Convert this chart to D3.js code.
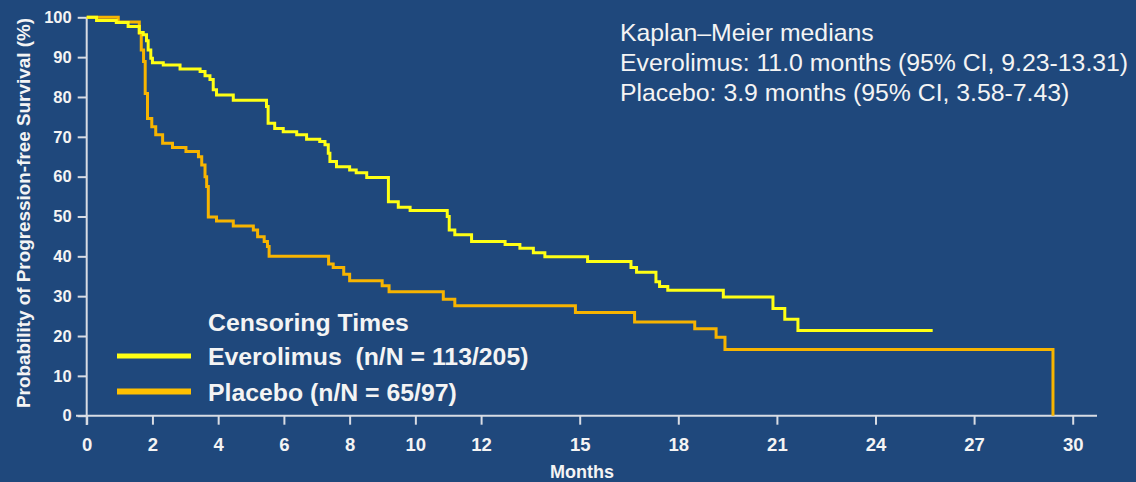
<!DOCTYPE html>
<html>
<head>
<meta charset="utf-8">
<script src="https://cdn.jsdelivr.net/npm/d3@7"></script>
<style>
  html, body { margin: 0; padding: 0; background: #1F487C; }
  svg { display: block; }
  text { font-family: "Liberation Sans", Arial, sans-serif; fill: #F4F4F4; white-space: pre; }
</style>
</head>
<body>
<script>
// Kaplan-Meier step points: [months, % progression-free]
const everolimusSteps = [
  [0, 100], [0.3, 99.2], [0.9, 98.7], [1.26, 97.7], [1.6, 96.2], [1.72, 95.6],
  [1.82, 94.1], [1.87, 91.8], [1.95, 89.7], [2.0, 88.6], [2.33, 88.0], [2.84, 87.0],
  [3.45, 86.4], [3.6, 85.3], [3.75, 84.4], [3.85, 81.8], [3.95, 80.5], [4.46, 79.2],
  [5.47, 77.6], [5.52, 73.4], [5.72, 72.1], [5.98, 71.3], [6.39, 70.5], [6.69, 69.4],
  [7.09, 68.8], [7.25, 68.0], [7.35, 65.9], [7.4, 63.8], [7.6, 62.5], [8.0, 61.7],
  [8.2, 61.0], [8.52, 59.8], [9.18, 53.7], [9.48, 52.3], [9.84, 51.5], [10.97, 50.0],
  [11.03, 46.6], [11.2, 45.4], [11.71, 43.7], [12.73, 43.0], [13.18, 42.0], [13.59, 40.9],
  [13.94, 39.9], [15.24, 38.7], [16.56, 37.2], [16.73, 36.0], [17.32, 33.6], [17.43, 32.4],
  [17.68, 31.5], [19.37, 29.8], [20.88, 26.9], [21.24, 24.2], [21.64, 21.4], [25.74, 21.4]
];

const placeboSteps = [
  [0, 100], [0.96, 98.8], [1.6, 96.0], [1.66, 91.8], [1.73, 88.9], [1.78, 80.9],
  [1.85, 74.6], [1.98, 72.5], [2.1, 70.5], [2.31, 68.4], [2.61, 67.3], [3.02, 66.3],
  [3.4, 65.0], [3.5, 62.9], [3.6, 60.0], [3.65, 57.5], [3.7, 49.9], [3.95, 48.9],
  [4.46, 47.6], [5.07, 46.6], [5.2, 44.9], [5.4, 43.7], [5.5, 42.5], [5.55, 40.0],
  [7.36, 38.1], [7.5, 37.2], [7.82, 35.5], [8.0, 33.9], [8.99, 32.6], [9.2, 31.1],
  [10.85, 29.2], [11.2, 27.6], [14.87, 25.9], [16.67, 23.5], [18.5, 21.8], [19.15, 19.7],
  [19.42, 16.6], [29.4, 0]
];

const monthTicks = [0, 2, 4, 6, 8, 10, 12, 15, 18, 21, 24, 27, 30];
const survivalTicks = [0, 10, 20, 30, 40, 50, 60, 70, 80, 90, 100];

const medianLines = [
  "Kaplan\u2013Meier medians",
  "Everolimus: 11.0 months (95% CI, 9.23-13.31)",
  "Placebo: 3.9 months (95% CI, 3.58-7.43)"
];
const legendTitle = "Censoring Times";
const legendLabels = ["Everolimus  (n/N = 113/205)", "Placebo (n/N = 65/97)"];

const yellow = "#FFFF14";
const orange = "#F7B400";

const width = 1136, height = 482;

const svg = d3.select("body").append("svg")
  .attr("width", width)
  .attr("height", height);

const x = d3.scaleLinear().domain([0, 30]).range([86.7, 1072.7]);
const y = d3.scaleLinear().domain([0, 100]).range([415.7, 17.3]);

// axis lines (they run a little past the ranges, like the original)
svg.append("line")
  .attr("x1", 76).attr("x2", 1097)
  .attr("y1", y(0)).attr("y2", y(0))
  .attr("stroke", "#D8DCE4").attr("stroke-width", 2);
svg.append("line")
  .attr("x1", x(0)).attr("x2", x(0))
  .attr("y1", y(100)).attr("y2", 425)
  .attr("stroke", "#D8DCE4").attr("stroke-width", 2);

// x axis
const xAxis = svg.append("g")
  .attr("transform", `translate(0,${y(0)})`)
  .call(d3.axisBottom(x).tickValues(monthTicks).tickSize(9).tickSizeOuter(0));
xAxis.select(".domain").remove();
xAxis.selectAll(".tick line").attr("stroke", "#D8DCE4").attr("stroke-width", 2);
xAxis.selectAll(".tick text")
  .attr("y", 35).attr("dy", 0)
  .attr("fill", "#F4F4F4")
  .style("font-size", "18.5px").style("font-weight", "bold")
  .style("font-family", "'Liberation Sans', Arial, sans-serif");

// y axis
const yAxis = svg.append("g")
  .attr("transform", `translate(${x(0)},0)`)
  .call(d3.axisLeft(y).tickValues(survivalTicks).tickSize(9).tickSizeOuter(0));
yAxis.select(".domain").remove();
yAxis.selectAll(".tick line").attr("stroke", "#D8DCE4").attr("stroke-width", 2);
yAxis.selectAll(".tick text")
  .attr("x", -15)
  .attr("fill", "#F4F4F4")
  .style("font-size", "16.5px").style("font-weight", "bold")
  .style("font-family", "'Liberation Sans', Arial, sans-serif");

// axis titles
svg.append("text")
  .attr("x", 582).attr("y", 478)
  .attr("text-anchor", "middle")
  .style("font-size", "18px").style("font-weight", "bold")
  .text("Months");

svg.append("text")
  .attr("transform", "translate(30,213) rotate(-90)")
  .attr("text-anchor", "middle")
  .attr("textLength", 390).attr("lengthAdjust", "spacingAndGlyphs")
  .style("font-size", "18px").style("font-weight", "bold")
  .text("Probability of Progression-free Survival (%)");

// step curves
const km = d3.line()
  .x(d => x(d[0]))
  .y(d => y(d[1]))
  .curve(d3.curveStepAfter);

svg.append("path")
  .datum(placeboSteps)
  .attr("d", km)
  .attr("fill", "none")
  .attr("stroke", orange)
  .attr("stroke-width", 3);

svg.append("path")
  .datum(everolimusSteps)
  .attr("d", km)
  .attr("fill", "none")
  .attr("stroke", yellow)
  .attr("stroke-width", 3);

// medians annotation
svg.append("g").selectAll("text")
  .data(medianLines)
  .enter().append("text")
  .attr("x", 620)
  .attr("y", (d, i) => 41 + i * 29.8)
  .style("font-size", "24.8px")
  .text(d => d);

// legend
const legend = svg.append("g");
legend.append("text")
  .attr("x", 208).attr("y", 331)
  .style("font-size", "24.8px").style("font-weight", "bold")
  .text(legendTitle);

const legendItems = legend.selectAll("g.item")
  .data(legendLabels)
  .enter().append("g")
  .attr("class", "item")
  .attr("transform", (d, i) => `translate(0,${356 + i * 35.5})`);

legendItems.append("line")
  .attr("x1", 117).attr("x2", 191)
  .attr("y1", 0).attr("y2", 0)
  .attr("stroke", (d, i) => i === 0 ? yellow : "#FFC000")
  .attr("stroke-width", (d, i) => i === 0 ? 5 : 6);

legendItems.append("text")
  .attr("x", 208).attr("y", 9)
  .style("font-size", "24.8px").style("font-weight", "bold")
  .text(d => d);
</script>
</body>
</html>
